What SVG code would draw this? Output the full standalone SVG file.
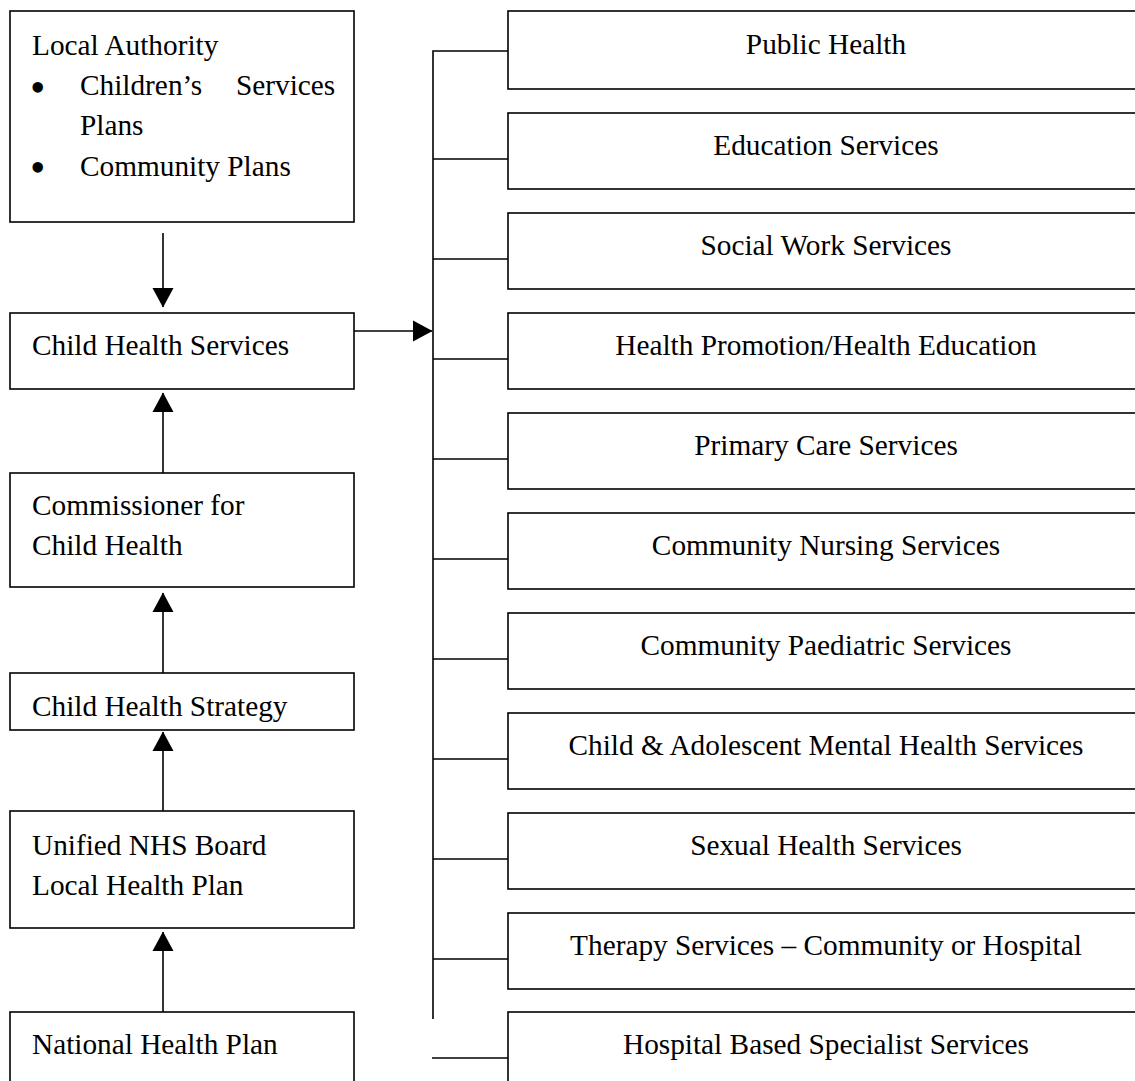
<svg xmlns="http://www.w3.org/2000/svg" width="1135" height="1081" viewBox="0 0 1135 1081">
<style>
  .box { fill: #fff; stroke: #000; stroke-width: 1.6; }
  .lbl { font-family: "Liberation Serif", "Times New Roman", serif; font-size: 29.3px; fill: #000; }
  .bul { font-family: "Liberation Serif", "Times New Roman", serif; font-size: 44px; fill: #000; }
  .ctr { text-anchor: middle; }
  .ln { fill: none; stroke: #000; stroke-width: 1.6; }
  .arr { fill: none; stroke: #000; stroke-width: 1.6; marker-end: url(#ah); }
</style>
<defs>
  <marker id="ah" markerUnits="userSpaceOnUse" markerWidth="22" markerHeight="24" refX="19" refY="11" orient="auto">
    <path d="M0,0.5 L19.5,11 L0,21.5 z" fill="#000"/>
  </marker>
</defs>
<rect width="1135" height="1081" fill="#fff"/>

<g id="connectors">
  <line class="arr" x1="163" y1="233" x2="163" y2="307"/>
  <line class="arr" x1="163" y1="473" x2="163" y2="393"/>
  <line class="arr" x1="163" y1="673" x2="163" y2="593"/>
  <line class="arr" x1="163" y1="811" x2="163" y2="732"/>
  <line class="arr" x1="163" y1="1012" x2="163" y2="932"/>
  <line class="arr" x1="354" y1="331" x2="432" y2="331"/>
  <path class="ln" d="M508,51 H433 V1019"/>
  <line class="ln" x1="433" y1="159" x2="508" y2="159"/>
  <line class="ln" x1="433" y1="259" x2="508" y2="259"/>
  <line class="ln" x1="433" y1="359" x2="508" y2="359"/>
  <line class="ln" x1="433" y1="459" x2="508" y2="459"/>
  <line class="ln" x1="433" y1="559" x2="508" y2="559"/>
  <line class="ln" x1="433" y1="659" x2="508" y2="659"/>
  <line class="ln" x1="433" y1="759" x2="508" y2="759"/>
  <line class="ln" x1="433" y1="859" x2="508" y2="859"/>
  <line class="ln" x1="433" y1="959" x2="508" y2="959"/>
  <line class="ln" x1="432" y1="1058" x2="508" y2="1058"/>
</g>

<g id="local-authority">
  <rect class="box" x="10" y="11" width="344" height="211"/>
  <text class="lbl" x="32" y="55">Local Authority</text>
  <text class="bul" x="30" y="102">•</text>
  <text class="lbl" x="80" y="95">Children’s</text>
  <text class="lbl" x="236" y="95">Services</text>
  <text class="lbl" x="80" y="135">Plans</text>
  <text class="bul" x="30" y="182">•</text>
  <text class="lbl" x="80" y="176">Community Plans</text>
</g>
<g id="child-health-services">
  <rect class="box" x="10" y="313" width="344" height="76"/>
  <text class="lbl" x="32" y="355">Child Health Services</text>
</g>
<g id="commissioner">
  <rect class="box" x="10" y="473" width="344" height="114"/>
  <text class="lbl" x="32" y="515">Commissioner for</text>
  <text class="lbl" x="32" y="555">Child Health</text>
</g>
<g id="strategy">
  <rect class="box" x="10" y="673" width="344" height="57"/>
  <text class="lbl" x="32" y="716">Child Health Strategy</text>
</g>
<g id="unified-board">
  <rect class="box" x="10" y="811" width="344" height="117"/>
  <text class="lbl" x="32" y="855">Unified NHS Board</text>
  <text class="lbl" x="32" y="895">Local Health Plan</text>
</g>
<g id="national-plan">
  <rect class="box" x="10" y="1012" width="344" height="90"/>
  <text class="lbl" x="32" y="1054">National Health Plan</text>
</g>

<g id="public-health">
  <rect class="box" x="508" y="11" width="640" height="78"/>
  <text class="lbl ctr" x="826" y="54">Public Health</text>
</g>
<g id="education">
  <rect class="box" x="508" y="113" width="640" height="76"/>
  <text class="lbl ctr" x="826" y="155">Education Services</text>
</g>
<g id="social-work">
  <rect class="box" x="508" y="213" width="640" height="76"/>
  <text class="lbl ctr" x="826" y="255">Social Work Services</text>
</g>
<g id="health-promotion">
  <rect class="box" x="508" y="313" width="640" height="76"/>
  <text class="lbl ctr" x="826" y="355">Health Promotion/Health Education</text>
</g>
<g id="primary-care">
  <rect class="box" x="508" y="413" width="640" height="76"/>
  <text class="lbl ctr" x="826" y="455">Primary Care Services</text>
</g>
<g id="community-nursing">
  <rect class="box" x="508" y="513" width="640" height="76"/>
  <text class="lbl ctr" x="826" y="555">Community Nursing Services</text>
</g>
<g id="community-paediatric">
  <rect class="box" x="508" y="613" width="640" height="76"/>
  <text class="lbl ctr" x="826" y="655">Community Paediatric Services</text>
</g>
<g id="camhs">
  <rect class="box" x="508" y="713" width="640" height="76"/>
  <text class="lbl ctr" x="826" y="755">Child &amp; Adolescent Mental Health Services</text>
</g>
<g id="sexual-health">
  <rect class="box" x="508" y="813" width="640" height="76"/>
  <text class="lbl ctr" x="826" y="855">Sexual Health Services</text>
</g>
<g id="therapy">
  <rect class="box" x="508" y="913" width="640" height="76"/>
  <text class="lbl ctr" x="826" y="955">Therapy Services – Community or Hospital</text>
</g>
<g id="hospital-specialist">
  <rect class="box" x="508" y="1012" width="640" height="90"/>
  <text class="lbl ctr" x="826" y="1054">Hospital Based Specialist Services</text>
</g>
</svg>
